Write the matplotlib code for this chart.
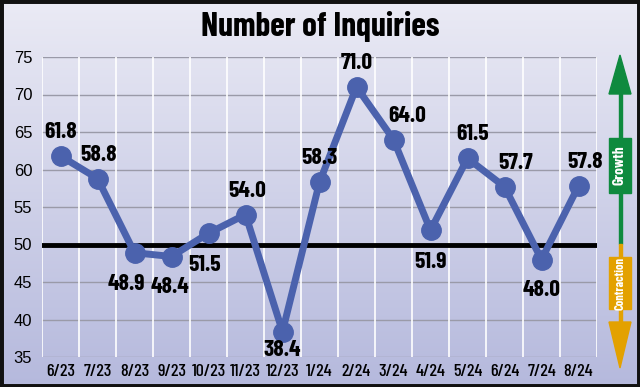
import numpy as np
import matplotlib
matplotlib.use('Agg')
import matplotlib.pyplot as plt
from matplotlib.patches import Rectangle, Polygon

# data
months = ['6/23', '7/23', '8/23', '9/23', '10/23', '11/23', '12/23', '1/24',
          '2/24', '3/24', '4/24', '5/24', '6/24', '7/24', '8/24']
inquiries = [61.8, 58.8, 48.9, 48.4, 51.5, 54.0, 38.4, 58.3,
             71.0, 64.0, 51.9, 61.5, 57.7, 48.0, 57.8]
label_above = [True, True, False, False, False, True, False, True,
               True, True, False, True, True, False, True]
yticks = [35, 40, 45, 50, 55, 60, 65, 70, 75]

# small nudges of the value labels (points)
label_dx = [0, 1, -6, -1, -3, 1, 0, 0, 0, 10, 0, 4, 8, 0, 5]
label_dy = [10, 10, -15, -15, -16, 10, -6, 10, 10, 10, -16, 10, 10, -15, 10]

narrow = ['Barlow Condensed', 'DejaVu Sans']
line_color = '#4b62ad'

fig = plt.figure(figsize=(6.4, 3.87), dpi=100)

# background gradient
bg = fig.add_axes([0, 0, 1, 1], zorder=0)
grad = np.linspace(0, 1, 256).reshape(-1, 1)
top = np.array([0.92, 0.92, 0.96])
bot = np.array([0.71, 0.725, 0.865])
img = top + (bot - top) * grad[:, :, None]
bg.imshow(img, aspect='auto', extent=[0, 1, 0, 1])
bg.set_axis_off()

ax = fig.add_axes([42 / 640, 30 / 387, 555 / 640, 300 / 387], zorder=2)
ax.set_facecolor('none')
x = np.arange(len(months))
ax.set_xlim(-0.5, len(months) - 0.5)
ax.set_ylim(35, 75)

for yv in yticks:
    ax.axhline(yv, color='#9a9aa8', lw=1, zorder=1)
for xv in np.arange(-0.5, len(months), 1.0):
    ax.axvline(xv, color='white', lw=1.2, zorder=1)
ax.axhline(50, color='black', lw=3.5, zorder=2)

ax.plot(x, inquiries, color=line_color, lw=5, marker='o', ms=14,
        solid_capstyle='round', zorder=3, clip_on=False)

for xi, v, up, dx, dy in zip(x, inquiries, label_above, label_dx, label_dy):
    ax.annotate(f'{v:.1f}', (xi, v), xytext=(dx, dy), textcoords='offset points',
                ha='center', va='bottom' if up else 'top', fontsize=17,
                fontweight='bold', family=narrow, zorder=4)

ax.set_xticks(x)
ax.set_xticklabels(months, family=narrow, fontsize=13, fontweight='medium')
ax.set_yticks(yticks)
ax.set_yticklabels([str(t) for t in yticks], fontsize=12, family=['Liberation Sans', 'DejaVu Sans'])
ax.tick_params(length=0)
ax.tick_params(axis='x', pad=5)
ax.tick_params(axis='y', pad=7)
for s in ax.spines.values():
    s.set_visible(False)

fig.text(0.5, 1 - 27 / 387, 'Number of Inquiries', ha='center', va='center',
         fontsize=24, fontweight='bold', family=narrow)

# decoration layer in pixel coords
deco = fig.add_axes([0, 0, 1, 1], zorder=5)
deco.set_xlim(0, 640)
deco.set_ylim(387, 0)
deco.set_axis_off()
deco.patch.set_alpha(0)

green = '#0e8a3e'
orange = '#e3a100'
deco.add_patch(Rectangle((618.5, 92), 3, 152, color=green))
deco.add_patch(Polygon([(609, 94), (631, 94), (620, 55)], closed=True, color=green))
deco.add_patch(Rectangle((609, 138), 22, 55, color=green))
deco.text(620, 165.5, 'Growth', rotation=90, ha='center', va='center',
          color='white', fontsize=11, fontweight='bold', family=narrow)

deco.add_patch(Rectangle((618.5, 244), 3, 80, color=orange))
deco.add_patch(Polygon([(609, 322), (631, 322), (620, 368)], closed=True, color=orange))
deco.add_patch(Rectangle((609, 257), 22, 52, color=orange))
deco.text(620, 283, 'Contraction', rotation=90, ha='center', va='center',
          color='white', fontsize=9, fontweight='bold', family=narrow)

# outer frame
deco.add_patch(Rectangle((0, 0), 640, 387, fill=False, ec='#111111', lw=5))

fig.savefig('out.png', dpi=100)
